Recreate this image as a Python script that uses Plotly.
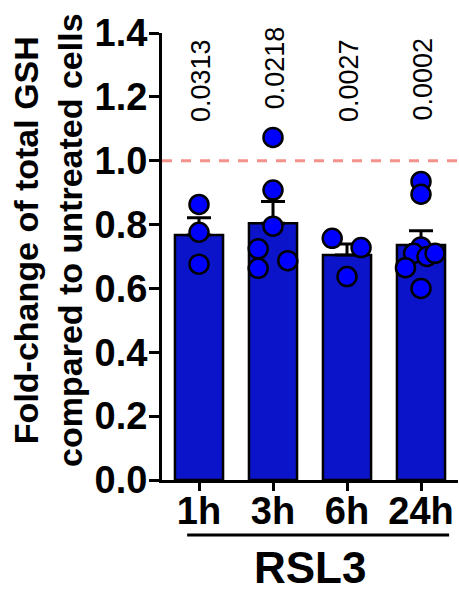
import plotly.graph_objects as go

categories = ["1h", "3h", "6h", "24h"]
bar_means = [0.767, 0.804, 0.705, 0.736]
bar_sem = [0.054, 0.068, 0.034, 0.045]
points_1h = [0.863, 0.776, 0.676]
points_3h = [1.073, 0.908, 0.795, 0.724, 0.687, 0.663]
points_6h = [0.757, 0.728, 0.637]
points_24h = [0.935, 0.895, 0.730, 0.710, 0.700, 0.710, 0.665, 0.600]
p_values = ["0.0313", "0.0218", "0.0027", "0.0002"]
y_ticks = [0.0, 0.2, 0.4, 0.6, 0.8, 1.0, 1.2, 1.4]
reference_level = 1.0
group_label = "RSL3"

# styling: horizontal jitter of points (category units) and label heights
jitter = [
    [0, 0, 0],
    [0, 0, 0, -0.2, 0.2, -0.2],
    [-0.2, 0.19, 0],
    [0, 0, 0, -0.1, 0.08, 0.19, -0.21, 0],
]
p_label_y = [1.25, 1.29, 1.25, 1.255]

FONT = "Liberation Sans, Arial, Helvetica, sans-serif"
xpos = list(range(len(categories)))
all_points = [points_1h, points_3h, points_6h, points_24h]

fig = go.Figure()
fig.add_trace(go.Bar(
    x=xpos, y=bar_means, width=0.65,
    marker=dict(color="#0B14C8", line=dict(color="black", width=2.5)),
    error_y=dict(type="data", symmetric=False, array=bar_sem,
                 arrayminus=[0] * len(bar_sem), color="black", thickness=3, width=12),
    showlegend=False,
))

px_, py_ = [], []
for i, pts in enumerate(all_points):
    for v, j in zip(pts, jitter[i]):
        px_.append(xpos[i] + j)
        py_.append(v)
fig.add_trace(go.Scatter(
    x=px_, y=py_, mode="markers",
    marker=dict(size=19, color="#0000FF", line=dict(color="black", width=2.5)),
    showlegend=False, cliponaxis=False,
))

fig.add_shape(type="line", xref="paper", yref="y", x0=0, x1=1,
              y0=reference_level, y1=reference_level,
              line=dict(color="#F4918B", width=3, dash="10px,9px"), layer="below")

for i, p in enumerate(p_values):
    fig.add_annotation(x=xpos[i] + 0.03, y=p_label_y[i], text=p, textangle=-90,
                       showarrow=False, xanchor="center", yanchor="middle",
                       font=dict(family=FONT, size=27, color="black"))

fig.add_shape(type="line", xref="x", yref="paper", x0=-0.16, x1=3.38,
              y0=-0.123, y1=-0.123, line=dict(color="black", width=3))
fig.add_annotation(x=1.5, xref="x", y=-0.195, yref="paper", text=group_label,
                   showarrow=False, xanchor="center", yanchor="middle",
                   font=dict(family=FONT, size=44, color="black", weight="bold"))

fig.add_annotation(x=-0.385, xref="paper", y=0.535, yref="paper",
                   text="Fold-change of total GSH<br>compared to untreated cells",
                   textangle=-90, showarrow=False, xanchor="center", yanchor="middle",
                   font=dict(family=FONT, size=34, color="black", weight="bold"))

fig.update_layout(
    width=459, height=592,
    margin=dict(l=162, r=1, t=33, b=112),
    plot_bgcolor="white", paper_bgcolor="white",
    font=dict(family=FONT, color="black"),
    xaxis=dict(range=[-0.5, 3.5], tickvals=xpos, ticktext=categories,
               showline=True, linecolor="black", linewidth=3,
               ticks="outside", ticklen=8, tickwidth=3, tickcolor="black",
               ticklabelstandoff=-13, automargin=False,
               tickfont=dict(family=FONT, size=38, color="black", weight="bold"),
               showgrid=False, zeroline=False, fixedrange=True),
    yaxis=dict(range=[0, 1.4], tickvals=y_ticks, ticktext=[f"{v:.1f}" for v in y_ticks],
               showline=True, linecolor="black", linewidth=3,
               ticks="outside", ticklen=10, tickwidth=3, tickcolor="black",
               ticklabelstandoff=-6, automargin=False,
               tickfont=dict(family=FONT, size=38, color="black", weight="bold"),
               showgrid=False, zeroline=False, fixedrange=True),
)
fig.write_html("out.html", config={"displayModeBar": False},
               post_script="document.body.style.margin='0';")
